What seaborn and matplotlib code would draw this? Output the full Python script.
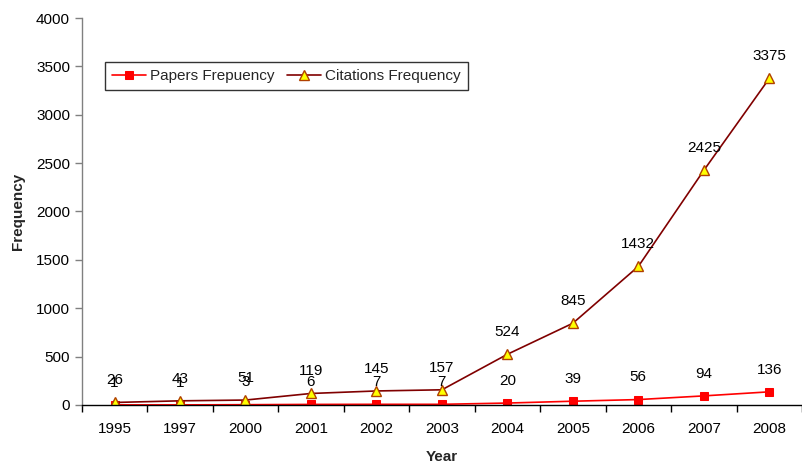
import matplotlib
matplotlib.use("Agg")
import matplotlib.pyplot as plt
import seaborn as sns
import pandas as pd

years = ["1995", "1997", "2000", "2001", "2002", "2003", "2004", "2005", "2006", "2007", "2008"]
papers = [1, 1, 3, 6, 7, 7, 20, 39, 56, 94, 136]
citations = [26, 43, 51, 119, 145, 157, 524, 845, 1432, 2425, 3375]

sns.set_theme(style="white")
plt.rcParams["font.family"] = ["Liberation Sans", "DejaVu Sans"]

df = pd.DataFrame({"Year": years, "Papers": papers, "Citations": citations})

fig = plt.figure(figsize=(8.02, 4.63), dpi=100)
ax = fig.add_axes([0.102, 0.1253, 0.898, 0.8358])

sns.lineplot(data=df, x="Year", y="Papers", ax=ax, sort=False, color="#FF0000",
             linewidth=1.2, marker="s", markersize=6, markeredgecolor="#FF0000",
             label="Papers Frepuency")
sns.lineplot(data=df, x="Year", y="Citations", ax=ax, sort=False, color="#800000",
             linewidth=1.2, marker="^", markersize=7, markerfacecolor="#FFFF00",
             markeredgecolor="#B04000", markeredgewidth=1.0,
             label="Citations Frequency")

fs = 11
for i, (p, c) in enumerate(zip(papers, citations)):
    ax.annotate(str(p), (i, p), xytext=(0, 11), textcoords="offset points",
                ha="center", va="bottom", fontsize=fs, color="black")
    ax.annotate(str(c), (i, c), xytext=(0, 11), textcoords="offset points",
                ha="center", va="bottom", fontsize=fs, color="black")

ax.set_xlim(-0.5, 10.41)
ax.set_ylim(0, 4000)
ax.set_yticks(range(0, 4001, 500))
ax.set_xticks(range(len(years)))
ax.set_xticklabels(years)
ax.set_xticks([i + 0.5 for i in range(-1, len(years))], minor=True)

ax.tick_params(axis="x", which="major", length=0, labelsize=fs, pad=12, colors="black")
ax.tick_params(axis="x", which="minor", length=5, width=1, direction="out", color="black", bottom=True)
ax.tick_params(axis="y", which="major", length=5, width=1, direction="out", color="#808080",
               labelsize=fs, labelcolor="black", left=True)

for s in ["top", "right"]:
    ax.spines[s].set_visible(False)
ax.spines["left"].set_color("#808080")
ax.spines["bottom"].set_color("black")
ax.spines["left"].set_linewidth(1)
ax.spines["bottom"].set_linewidth(1)

ax.set_xlabel("Year", fontsize=fs, fontweight="bold", labelpad=10)
ax.set_ylabel("Frequency", fontsize=fs, fontweight="bold", labelpad=8)

leg = ax.legend(loc="upper left", bbox_to_anchor=(0.022, 0.905), ncol=2, fontsize=fs,
                frameon=True, fancybox=False, edgecolor="black", handlelength=2.2,
                handletextpad=0.3, columnspacing=0.8, borderpad=0.45)
leg.get_frame().set_linewidth(1)

fig.savefig("out.png", dpi=100)
